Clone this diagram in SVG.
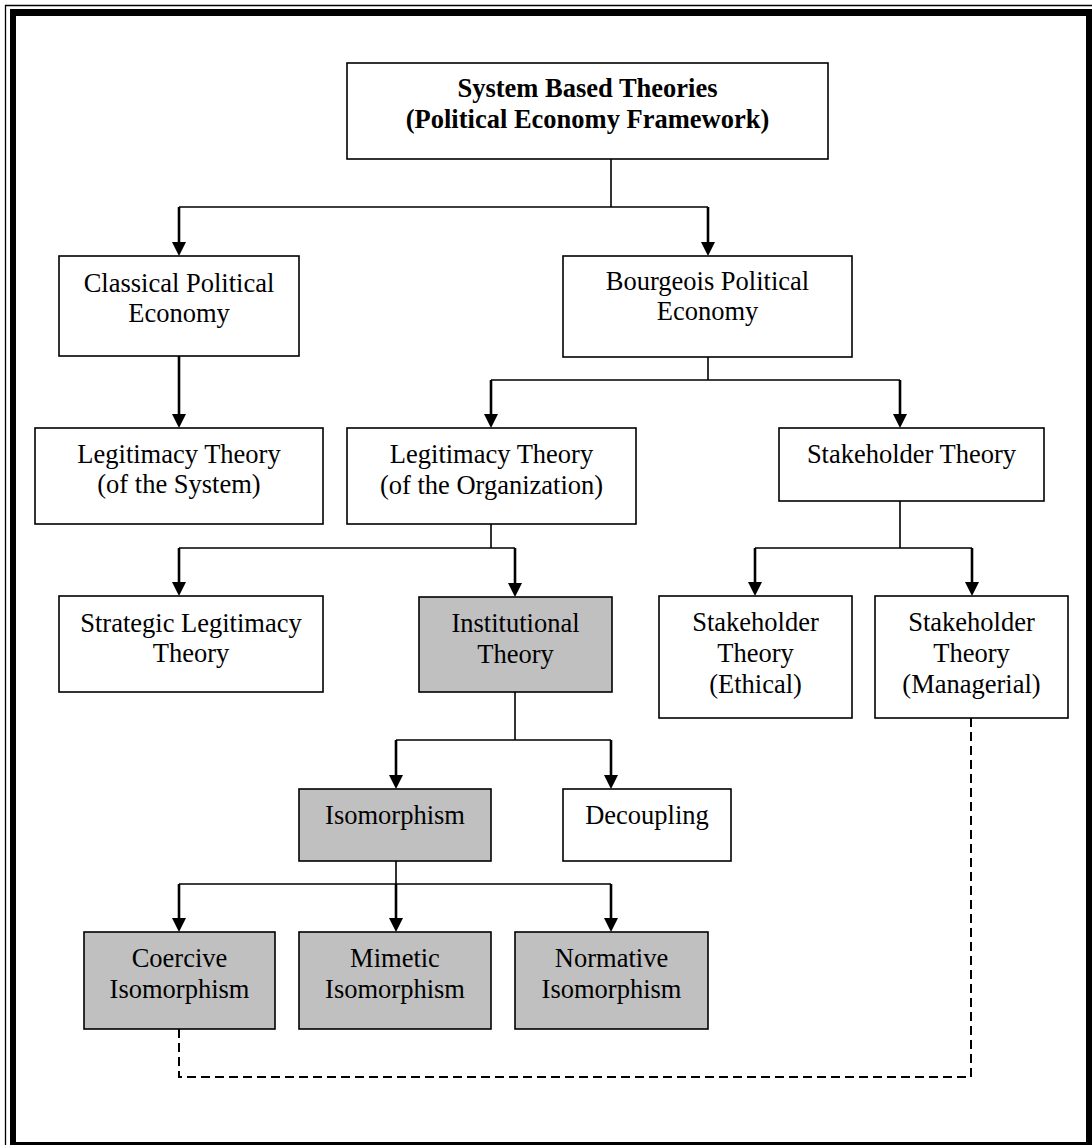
<svg xmlns="http://www.w3.org/2000/svg" width="1092" height="1145" viewBox="0 0 1092 1145">
<style>
.bx{fill:#fff;stroke:#000;stroke-width:1.6}
.gr{fill:#c0c0c0}
.t{font-family:"Liberation Serif","Times New Roman",serif;font-size:26.5px;text-anchor:middle;fill:#000}
.b{font-weight:bold}
.ln{fill:none;stroke:#000;stroke-width:1.6}
.ar{fill:none;stroke:#000;stroke-width:2.6}
.ds{fill:none;stroke:#000;stroke-width:2;stroke-dasharray:9 5}
</style>
<defs>
<marker id="ah" markerUnits="userSpaceOnUse" markerWidth="14" markerHeight="14" refX="1" refY="7" orient="auto">
<path d="M0,0 L14,7 L0,14 z" fill="#000"/>
</marker>
</defs>
<rect width="1092" height="1145" fill="#fff"/>
<g id="frame">
<path d="M5.5,1145 V5.5 H1092" fill="none" stroke="#000" stroke-width="1.3"/>
<rect x="10" y="9" width="1082" height="7" fill="#000"/>
<rect x="10" y="9" width="6" height="1136" fill="#000"/>
<rect x="1086" y="9" width="6" height="1136" fill="#000"/>
<rect x="10" y="1142" width="1082" height="3" fill="#000"/>
</g>
<g id="connectors">
<path class="ln" d="M611,159 V207 M179,207 H708 M708,357 V380 M491,380 H900 M491,524 V548 M179,548 H515 M900,501 V548 M755,548 H972 M515,692 V740 M396,740 H611 M396,861 V884 M179,884 H611"/>
<path class="ar" marker-end="url(#ah)" d="M179,207 V243"/>
<path class="ar" marker-end="url(#ah)" d="M708,207 V243"/>
<path class="ar" marker-end="url(#ah)" d="M179,356 V415"/>
<path class="ar" marker-end="url(#ah)" d="M491,380 V415"/>
<path class="ar" marker-end="url(#ah)" d="M900,380 V415"/>
<path class="ar" marker-end="url(#ah)" d="M179,548 V583"/>
<path class="ar" marker-end="url(#ah)" d="M515,548 V584"/>
<path class="ar" marker-end="url(#ah)" d="M755,548 V583"/>
<path class="ar" marker-end="url(#ah)" d="M972,548 V583"/>
<path class="ar" marker-end="url(#ah)" d="M396,740 V776"/>
<path class="ar" marker-end="url(#ah)" d="M611,740 V776"/>
<path class="ar" marker-end="url(#ah)" d="M179,884 V919"/>
<path class="ar" marker-end="url(#ah)" d="M396,884 V919"/>
<path class="ar" marker-end="url(#ah)" d="M611,884 V919"/>
<path class="ds" d="M179,1029 V1077 H971 V718"/>
</g>
<g id="n-top"><rect class="bx" x="347" y="63" width="481" height="96"/><text class="t b" x="587.5" y="97">System Based Theories</text><text class="t b" x="587.5" y="128">(Political Economy Framework)</text></g>
<g id="n-classical"><rect class="bx" x="59" y="256" width="240" height="100"/><text class="t" x="179" y="292">Classical Political</text><text class="t" x="179" y="322">Economy</text></g>
<g id="n-bourgeois"><rect class="bx" x="563" y="256" width="289" height="101"/><text class="t" x="707.5" y="290">Bourgeois Political</text><text class="t" x="707.5" y="320">Economy</text></g>
<g id="n-legit-system"><rect class="bx" x="35" y="428" width="288" height="96"/><text class="t" x="179" y="463">Legitimacy Theory</text><text class="t" x="179" y="493">(of the System)</text></g>
<g id="n-legit-org"><rect class="bx" x="347" y="428" width="289" height="96"/><text class="t" x="491.5" y="463">Legitimacy Theory</text><text class="t" x="491.5" y="494">(of the Organization)</text></g>
<g id="n-stakeholder"><rect class="bx" x="779" y="428" width="265" height="73"/><text class="t" x="911.5" y="463">Stakeholder Theory</text></g>
<g id="n-strategic"><rect class="bx" x="59" y="596" width="264" height="96"/><text class="t" x="191" y="632">Strategic Legitimacy</text><text class="t" x="191" y="662">Theory</text></g>
<g id="n-institutional"><rect class="bx gr" x="419" y="597" width="193" height="95"/><text class="t" x="515.5" y="632">Institutional</text><text class="t" x="515.5" y="663">Theory</text></g>
<g id="n-ethical"><rect class="bx" x="659" y="596" width="193" height="122"/><text class="t" x="755.5" y="631">Stakeholder</text><text class="t" x="755.5" y="662">Theory</text><text class="t" x="755.5" y="693">(Ethical)</text></g>
<g id="n-managerial"><rect class="bx" x="875" y="596" width="193" height="122"/><text class="t" x="971.5" y="631">Stakeholder</text><text class="t" x="971.5" y="662">Theory</text><text class="t" x="971.5" y="693">(Managerial)</text></g>
<g id="n-isomorphism"><rect class="bx gr" x="299" y="789" width="192" height="72"/><text class="t" x="395" y="824">Isomorphism</text></g>
<g id="n-decoupling"><rect class="bx" x="563" y="789" width="168" height="72"/><text class="t" x="647" y="824">Decoupling</text></g>
<g id="n-coercive"><rect class="bx gr" x="84" y="932" width="191" height="97"/><text class="t" x="179.5" y="967">Coercive</text><text class="t" x="179.5" y="998">Isomorphism</text></g>
<g id="n-mimetic"><rect class="bx gr" x="299" y="932" width="192" height="97"/><text class="t" x="395" y="967">Mimetic</text><text class="t" x="395" y="998">Isomorphism</text></g>
<g id="n-normative"><rect class="bx gr" x="515" y="932" width="193" height="97"/><text class="t" x="611.5" y="967">Normative</text><text class="t" x="611.5" y="998">Isomorphism</text></g>
</svg>
